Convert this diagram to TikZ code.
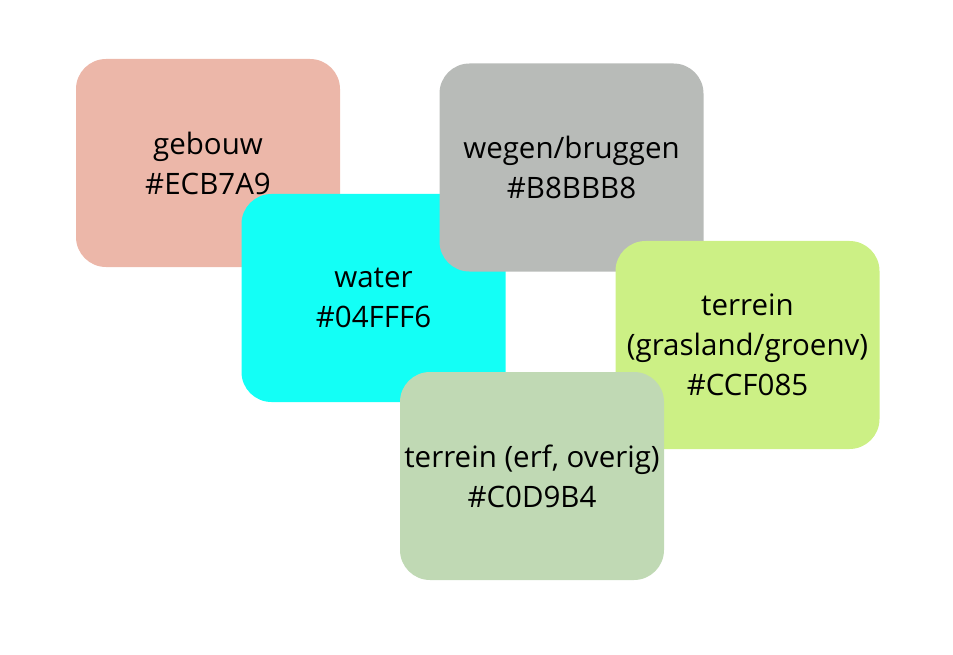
\documentclass[tikz,border=0pt]{standalone}
\usepackage{fontspec}
\setmainfont{Open Sans}
\definecolor{cgebouw}{HTML}{ECB7A9}
\definecolor{cwater}{HTML}{13FFF6}
\definecolor{cwegen}{HTML}{B8BBB8}
\definecolor{cgras}{HTML}{CCF085}
\definecolor{cerf}{HTML}{C0D9B4}
\begin{document}
\begin{tikzpicture}[x=1pt,y=-1pt,
  tile/.style={rounded corners=30pt, draw=none, minimum width=264pt, minimum height=208pt,
    align=center, inner sep=0pt, font=\fontsize{29.5}{40}\selectfont, text=black},
]
\useasboundingbox (0,0) rectangle (953,655);
\node[tile, fill=cgebouw] (gebouw) at (208,163) {gebouw\\\#ECB7A9};
\node[tile, fill=cwater] (water) at (373.5,298) {water\\\#04FFF6};
\node[tile, fill=cwegen] (wegen) at (571.5,167.5) {wegen/bruggen\\\#B8BBB8};
\node[tile, fill=cgras] (gras) at (747.5,345) {terrein\\(grasland/groenv)\\\#CCF085};
\node[tile, fill=cerf] (erf) at (532,476) {terrein (erf, overig)\\\#C0D9B4};
\end{tikzpicture}
\end{document}
